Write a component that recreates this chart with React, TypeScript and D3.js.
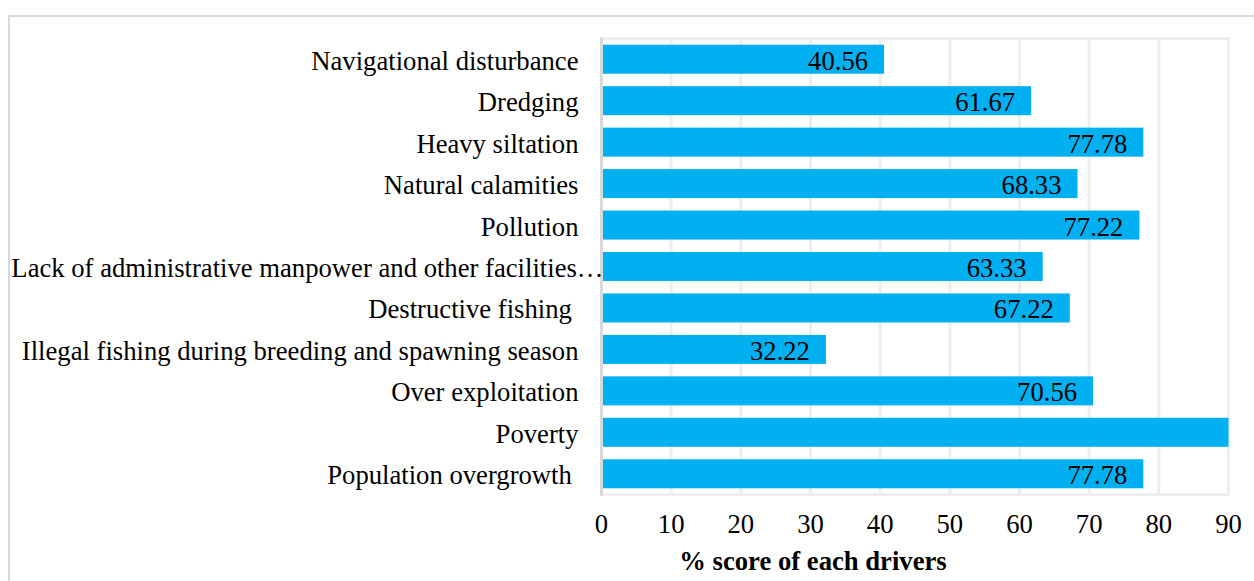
import React from "react";
import * as d3 from "d3";

const categories = [
  "Navigational disturbance",
  "Dredging",
  "Heavy siltation",
  "Natural calamities",
  "Pollution",
  "Lack of administrative manpower and other facilities…",
  "Destructive fishing ",
  "Illegal fishing during breeding and spawning season",
  "Over exploitation",
  "Poverty",
  "Population overgrowth ",
];
const values = [40.56, 61.67, 77.78, 68.33, 77.22, 63.33, 67.22, 32.22, 70.56, 95.56, 77.78];
const xTicks = [0, 10, 20, 30, 40, 50, 60, 70, 80, 90];
const xTitle = "% score of each drivers";

const W = 1254;
const H = 581;
const FONT = "'Liberation Serif', 'Times New Roman', serif";
const BAR = "#00B0F0";
const FS = 26.67;

export default function App() {
  const xMax = 90;
  const x = d3.scaleLinear().domain([0, xMax]).range([601.5, 1228.5]);
  const y = d3
    .scaleBand<string>()
    .domain(categories)
    .range([38.5, 494.5])
    .paddingInner(0.3)
    .paddingOuter(0.15);
  const plotTop = 38.5;
  const plotBottom = 494.5;

  return (
    <svg
      width={W}
      height={H}
      style={{ position: "absolute", left: 0, top: 0, background: "#fff" }}
      fontFamily={FONT}
    >
      {/* outer chart border */}
      <rect x={9} y={16} width={W + 20} height={H + 20} fill="#fff" stroke="#d9d9d9" strokeWidth={2} />

      {/* gridlines */}
      {xTicks.filter((t) => t > 0).map((t) => (
        <line key={t} x1={x(t)} x2={x(t)} y1={plotTop} y2={plotBottom} stroke="#eeeeee" strokeWidth={3} />
      ))}
      <line x1={x(0)} x2={x(xMax) + 1.5} y1={plotTop} y2={plotTop} stroke="#eeeeee" strokeWidth={3} />
      <line x1={x(0)} x2={x(xMax) + 1.5} y1={plotBottom} y2={plotBottom} stroke="#eeeeee" strokeWidth={3} />

      {/* bars */}
      {categories.map((c, i) => {
        const v = Math.min(values[i], xMax);
        const y0 = y(c) as number;
        return (
          <rect key={c} x={x(0)} y={y0} width={x(v) - x(0)} height={y.bandwidth()} fill={BAR} />
        );
      })}

      {/* axis line */}
      <line x1={x(0)} x2={x(0)} y1={plotTop - 1} y2={plotBottom + 1.5} stroke="#d9d9d9" strokeWidth={3} />

      {/* data labels */}
      {categories.map((c, i) =>
        values[i] <= xMax ? (
          <text
            key={c}
            x={x(values[i]) - 16}
            y={(y(c) as number) + y.bandwidth() / 2 + 10.5}
            textAnchor="end"
            fontSize={FS}
            fill="#000"
          >
            {values[i].toFixed(2)}
          </text>
        ) : null
      )}

      {/* category labels */}
      {categories.map((c) => {
        const truncated = c.endsWith("…");
        return (
          <text
            key={c}
            x={truncated ? x(0) + 2 : x(0) - 23}
            y={(y(c) as number) + y.bandwidth() / 2 + 10.5}
            textAnchor="end"
            fontSize={FS}
            fill="#000"
            style={{ whiteSpace: "pre" }}
          >
            {c}
          </text>
        );
      })}

      {/* tick labels */}
      {xTicks.map((t) => (
        <text key={t} x={x(t)} y={533} textAnchor="middle" fontSize={FS} fill="#000">
          {t}
        </text>
      ))}

      {/* axis title */}
      <text x={813} y={570} textAnchor="middle" fontSize={FS} fontWeight="bold" fill="#000">
        {xTitle}
      </text>
    </svg>
  );
}
